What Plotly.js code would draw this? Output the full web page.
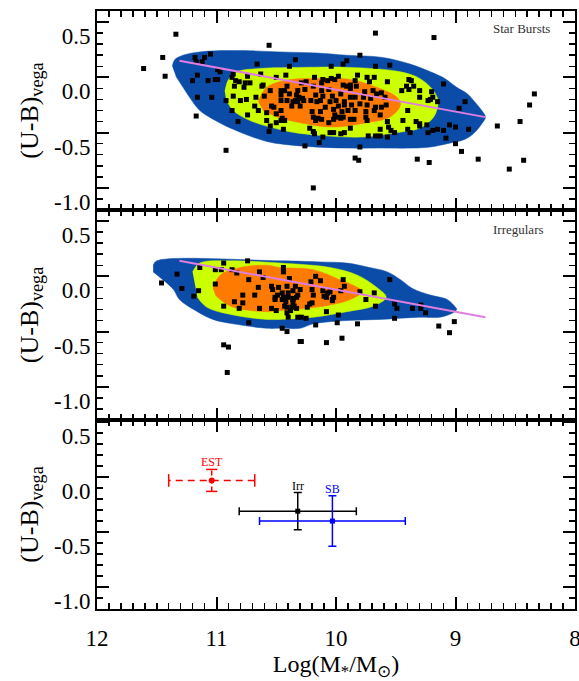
<!DOCTYPE html>
<html>
<head>
<meta charset="utf-8">
<script src="https://cdn.plot.ly/plotly-3.0.1.min.js"></script>
<style>html,body{margin:0;padding:0;background:#fff;}#chart{width:579px;height:681px;}</style>
</head>
<body>
<div id="chart"></div>
<script>
// ---------- Data ----------
// Top panel: Star Bursts
const sbX = [11.34,9.67,10.56,11.45,11.05,11.18,11.10,11.12,11.17,10.34,9.80,9.91,9.94,10.66,10.39,10.04,9.67,9.55,10.99,10.97,
11.43,11.16,10.86,10.63,10.42,10.74,10.50,10.18,10.11,10.04,9.98,9.82,9.74,9.68,9.39,11.20,11.07,11.01,10.99,10.87,
10.84,10.81,10.76,10.72,10.61,10.29,10.25,10.12,10.07,10.01,9.88,9.84,9.72,9.57,9.37,9.35,10.77,10.85,10.62,10.41,
10.46,10.43,10.32,10.26,10.19,10.12,10.06,9.94,9.91,9.88,9.83,9.76,9.69,9.66,9.62,9.45,9.41,9.39,9.30,10.60,
10.55,10.46,10.39,10.33,10.31,10.34,10.28,10.17,10.11,10.03,9.96,9.88,9.84,9.77,9.71,9.59,11.16,11.04,10.86,10.67,
9.30,10.92,10.80,10.75,10.46,10.41,10.36,10.37,10.32,10.27,10.21,10.16,10.13,10.05,10.00,9.93,9.93,9.87,9.80,9.74,
9.67,9.62,9.58,9.23,10.87,10.68,10.65,10.54,10.52,10.46,10.30,10.20,10.13,10.09,10.02,9.98,9.95,9.90,9.84,9.75,
9.68,9.63,9.40,10.74,10.58,10.50,10.45,10.19,10.15,10.12,10.01,9.98,9.94,9.88,9.85,9.75,9.74,9.57,11.17,10.82,
10.58,10.50,10.46,10.43,10.17,10.06,10.02,9.96,10.55,10.44,10.22,10.19,10.18,10.05,10.02,9.96,9.93,9.88,9.73,9.67,
9.63,9.63,9.57,9.56,9.54,9.51,9.44,9.40,9.38,9.33,9.30,9.30,9.24,9.23,10.56,10.11,10.14,10.26,9.80,10.92,
9.84,9.81,9.32,9.22,10.19,11.61,9.18,9.10,9.20,9.19,9.21,9.15,8.92,8.97,8.34,8.38,8.46,8.65,9.10,9.08,
9.05,9.00,8.89,9.00,8.95,8.81,8.55,8.43,9.19,9.15];
const sbY = [0.39,0.40,0.29,0.18,0.21,0.18,0.18,0.14,0.14,0.16,0.20,0.15,0.12,0.12,0.10,0.10,0.10,0.11,0.07,0.05,
0.01,0.02,0.03,0.03,0.02,0.01,0.00,0.00,-0.02,-0.01,0.01,0.02,0.00,0.00,-0.02,-0.03,-0.03,-0.02,-0.02,0.00,
-0.03,-0.04,-0.05,-0.05,-0.07,-0.05,-0.04,-0.05,-0.03,-0.02,-0.07,-0.03,-0.04,-0.04,-0.03,-0.08,-0.09,-0.08,-0.08,-0.08,
-0.12,-0.12,-0.12,-0.11,-0.08,-0.12,-0.11,-0.07,-0.08,-0.10,-0.08,-0.13,-0.12,-0.15,-0.14,-0.12,-0.08,-0.11,-0.12,-0.17,
-0.12,-0.16,-0.15,-0.16,-0.18,-0.21,-0.19,-0.16,-0.17,-0.17,-0.15,-0.18,-0.18,-0.18,-0.19,-0.18,-0.18,-0.18,-0.17,-0.18,
-0.18,-0.21,-0.21,-0.20,-0.21,-0.21,-0.22,-0.26,-0.22,-0.21,-0.21,-0.22,-0.21,-0.22,-0.21,-0.22,-0.25,-0.25,-0.24,-0.25,
-0.27,-0.27,-0.25,-0.21,-0.30,-0.26,-0.30,-0.26,-0.27,-0.30,-0.26,-0.31,-0.31,-0.27,-0.29,-0.26,-0.31,-0.30,-0.30,-0.31,
-0.30,-0.34,-0.30,-0.34,-0.32,-0.33,-0.37,-0.36,-0.37,-0.38,-0.34,-0.36,-0.36,-0.38,-0.38,-0.36,-0.39,-0.40,-0.35,-0.40,
-0.39,-0.41,-0.39,-0.39,-0.39,-0.41,-0.38,-0.37,-0.44,-0.47,-0.46,-0.49,-0.51,-0.50,-0.50,-0.51,-0.50,-0.46,-0.53,-0.53,
-0.53,-0.47,-0.54,-0.45,-0.48,-0.50,-0.39,-0.47,-0.50,-0.40,-0.42,-0.44,-0.43,-0.50,-0.49,-0.54,-0.59,-0.62,-0.63,-0.66,
-0.73,-0.75,-0.74,-0.77,-1.00,0.08,0.36,-0.06,-0.13,-0.18,-0.20,-0.22,-0.22,-0.28,-0.15,-0.25,-0.40,-0.44,-0.48,-0.55,
-0.43,-0.45,-0.47,-0.60,-0.67,-0.74,-0.83,-0.75,-0.48,-0.47];

// Density contour outlines, top panel (outer, middle, inner level)
const sbBlueX = [11.37,11.35,11.28,11.14,11.00,10.72,10.47,10.16,9.91,9.61,9.38,9.21,9.09,8.99,8.90,8.84,8.78,8.75,8.78,8.84,8.92,9.07,9.21,9.36,9.63,9.91,10.30,10.58,10.86,11.01,11.14,11.22,11.28,11.34];
const sbBlueY = [0.10,0.16,0.20,0.23,0.24,0.24,0.23,0.22,0.20,0.18,0.12,0.05,-0.01,-0.09,-0.15,-0.22,-0.30,-0.36,-0.42,-0.50,-0.56,-0.60,-0.63,-0.64,-0.64,-0.64,-0.62,-0.58,-0.47,-0.39,-0.30,-0.19,-0.09,0.01];
const sbYellowX = [10.93,10.90,10.83,10.64,10.30,9.88,9.46,9.30,9.20,9.15,9.15,9.19,9.30,9.49,9.77,10.19,10.44,10.72,10.86,10.92];
const sbYellowY = [-0.13,-0.02,0.05,0.08,0.09,0.09,0.05,-0.01,-0.10,-0.19,-0.27,-0.37,-0.46,-0.50,-0.54,-0.52,-0.48,-0.39,-0.30,-0.20];
const sbOrangeX = [10.65,10.58,10.38,10.16,9.88,9.66,9.49,9.46,9.55,9.74,10.03,10.30,10.49,10.61];
const sbOrangeY = [-0.22,-0.09,-0.02,-0.01,-0.02,-0.09,-0.18,-0.25,-0.36,-0.41,-0.45,-0.41,-0.36,-0.30];
const sbFitX = [11.31,8.75];
const sbFitY = [0.15,-0.36];

// Middle panel: Irregulars
const irrX = [11.46,11.33,11.29,11.19,11.15,11.14,11.01,10.96,10.94,10.74,10.87,10.83,10.64,10.61,10.44,10.44,10.73,11.01,10.54,10.48,
10.41,10.34,10.78,10.68,10.65,10.53,10.51,10.49,10.45,10.44,10.40,10.36,10.51,10.43,10.36,10.33,10.85,10.78,10.94,10.81,
10.64,10.54,10.50,10.41,10.41,10.40,10.73,10.94,10.90,10.91,10.45,10.41,10.30,10.32,10.17,10.13,10.21,10.39,10.30,10.36,
10.45,10.40,10.33,10.32,10.20,10.19,10.11,10.07,10.05,10.10,10.08,10.02,10.03,10.03,9.94,9.93,9.96,9.80,9.75,9.68,
10.36,10.35,10.42,10.37,10.38,10.20,10.22,10.24,10.08,10.29,10.25,9.67,10.17,9.98,9.99,9.82,10.29,10.08,9.95,9.55,
9.51,9.49,9.51,9.36,9.29,9.29,9.25,9.14,9.05,9.01];
const irrY = [-0.06,0.02,-0.11,-0.18,-0.13,0.08,0.06,0.06,0.12,0.14,0.06,0.03,0.04,-0.01,0.08,0.04,-0.03,-0.07,-0.09,-0.10,
-0.09,-0.09,-0.17,-0.17,-0.10,-0.12,-0.19,-0.17,-0.21,-0.19,-0.15,-0.20,-0.21,-0.27,-0.24,-0.29,-0.23,-0.24,-0.27,-0.29,
-0.29,-0.29,-0.31,-0.28,-0.33,-0.37,-0.42,-0.62,-0.64,-0.87,-0.47,-0.50,-0.59,-0.37,0.00,-0.04,-0.05,-0.02,-0.12,-0.13,
-0.15,-0.19,-0.19,-0.17,-0.12,-0.17,-0.13,-0.15,-0.14,-0.18,-0.19,-0.19,-0.21,-0.22,-0.03,-0.09,-0.13,-0.14,-0.21,-0.15,
-0.21,-0.27,-0.23,-0.28,-0.31,-0.24,-0.25,-0.28,-0.32,-0.37,-0.38,-0.27,-0.44,-0.35,-0.42,-0.43,-0.59,-0.60,-0.56,-0.03,
-0.25,-0.29,-0.38,-0.29,-0.29,-0.26,-0.33,-0.45,-0.51,-0.41];

const irrBlueX = [11.53,11.50,10.47,10.13,9.91,9.72,9.57,9.46,9.36,9.21,9.07,9.00,8.99,9.02,9.13,9.30,9.63,9.91,10.19,10.30,10.47,10.58,10.86,11.03,11.16,11.31,11.36,11.45,11.53];
const irrBlueY = [0.10,0.14,0.14,0.13,0.12,0.08,0.04,-0.03,-0.11,-0.17,-0.21,-0.28,-0.30,-0.33,-0.37,-0.37,-0.39,-0.40,-0.43,-0.47,-0.47,-0.47,-0.43,-0.39,-0.32,-0.21,-0.12,-0.03,0.04];
const irrYellowX = [11.20,11.14,10.86,10.47,10.05,9.82,9.66,9.58,9.69,9.91,10.19,10.47,10.58,10.86,11.08,11.16];
const irrYellowY = [0.04,0.12,0.14,0.12,0.08,0.01,-0.10,-0.19,-0.27,-0.32,-0.37,-0.39,-0.39,-0.35,-0.28,-0.19];
const irrOrangeX = [11.03,10.97,10.80,10.58,10.47,10.19,9.97,9.82,9.78,9.88,10.05,10.33,10.47,10.58,10.86,10.97,11.01];
const irrOrangeY = [-0.11,0.01,0.08,0.10,0.08,0.06,-0.03,-0.10,-0.14,-0.21,-0.26,-0.30,-0.31,-0.32,-0.28,-0.21,-0.17];
const irrFitX = [11.31,8.75];
const irrFitY = [0.14,-0.37];

// Bottom panel: mean values with dispersions
const groupNames = ['EST','Irr','SB'];
const groupX    = [11.04,10.32,10.03];
const groupY    = [-0.03,-0.31,-0.40];
const groupXErr = [0.36,0.49,0.61];
const groupYErr = [0.10,0.17,0.23];
const groupColors = ['#ff0000','#000000','#0000ff'];

// Tick labels
const xTickVals = [12,11,10,9,8];
const xTickText = ['12','11','10','9','8'];
const yTickVals = [-1,-0.5,0,0.5];
const yTickText = ['-1.0','-0.5','0.0','0.5'];

// ---------- Styling ----------
const FONT = 'Liberation Serif, Times New Roman, serif';
const cBlue = '#0a4ca8', cYellow = '#ccff00', cOrange = '#ff7a00', cFit = '#e07ee0';

function region(xs, ys, color, xa, ya){
  return {x: xs, y: ys, xaxis: xa, yaxis: ya, type:'scatter', mode:'lines', fill:'toself',
          fillcolor: color, line:{color: color, width:0.5, shape:'spline', smoothing:1}, hoverinfo:'skip', showlegend:false};
}
function pts(xs, ys, xa, ya){
  return {x: xs, y: ys, xaxis: xa, yaxis: ya, type:'scatter', mode:'markers',
          marker:{symbol:'square', size:5, color:'#000'}, showlegend:false};
}
function fit(xs, ys, xa, ya){
  return {x: xs, y: ys, xaxis: xa, yaxis: ya, type:'scatter', mode:'lines',
          line:{color:cFit, width:2}, showlegend:false};
}

const traces = [
  region(sbBlueX, sbBlueY, cBlue, 'x2', 'y'),
  region(sbYellowX, sbYellowY, cYellow, 'x2', 'y'),
  region(sbOrangeX, sbOrangeY, cOrange, 'x2', 'y'),
  pts(sbX, sbY, 'x2', 'y'),
  fit(sbFitX, sbFitY, 'x2', 'y'),
  region(irrBlueX, irrBlueY, cBlue, 'x3', 'y2'),
  region(irrYellowX, irrYellowY, cYellow, 'x3', 'y2'),
  region(irrOrangeX, irrOrangeY, cOrange, 'x3', 'y2'),
  pts(irrX, irrY, 'x3', 'y2'),
  fit(irrFitX, irrFitY, 'x3', 'y2')
];

// EST: dashed error bars built from its values
{
  const i = 0, c = groupColors[i];
  const cx = groupX[i], cy = groupY[i], ex = groupXErr[i], ey = groupYErr[i];
  traces.push({x:[cx-ex, cx+ex], y:[cy, cy], xaxis:'x', yaxis:'y3', type:'scatter', mode:'lines',
               line:{color:c, width:1.5, dash:'7px,5px'}, showlegend:false});
  traces.push({x:[cx, cx], y:[cy-ey, cy+ey], xaxis:'x', yaxis:'y3', type:'scatter', mode:'lines',
               line:{color:c, width:1.5, dash:'5px,3px'}, showlegend:false});
  traces.push({x:[cx-ex, cx+ex], y:[cy, cy], xaxis:'x', yaxis:'y3', type:'scatter', mode:'markers',
               marker:{symbol:'line-ns', size:9, line:{color:c, width:1.5}}, showlegend:false});
  traces.push({x:[cx, cx], y:[cy-ey, cy+ey], xaxis:'x', yaxis:'y3', type:'scatter', mode:'markers',
               marker:{symbol:'line-ew', size:8, line:{color:c, width:1.5}}, showlegend:false});
  traces.push({x:[cx], y:[cy], xaxis:'x', yaxis:'y3', type:'scatter', mode:'markers',
               marker:{symbol:'circle', size:6, color:c}, showlegend:false});
}
// Irr and SB: solid error bars
for (let i = 1; i < 3; i++){
  const c = groupColors[i];
  traces.push({x:[groupX[i]], y:[groupY[i]], xaxis:'x', yaxis:'y3', type:'scatter', mode:'markers',
    marker:{symbol:'square', size:5, color:c},
    error_x:{type:'data', array:[groupXErr[i]], color:c, thickness:1.5, width:4},
    error_y:{type:'data', array:[groupYErr[i]], color:c, thickness:1.5, width:4},
    showlegend:false});
}

const axisCommon = {
  showline:true, linecolor:'#000', linewidth:2, mirror:'allticks',
  ticks:'inside', ticklen:12, tickwidth:2, tickcolor:'#000',
  showgrid:false, zeroline:false,
  minor:{ticks:'inside', ticklen:6, tickwidth:1.5, tickcolor:'#000', dtick:0.1, tick0:0, showgrid:false},
  tickfont:{family:FONT, size:23, color:'#000'},
  ticklabeloverflow:'allow'
};
const yTitle = {text:'(U-B)<sub>vega</sub>', font:{family:FONT, size:26, color:'#000'}, standoff:8};

const layout = {
  width:579, height:681,
  margin:{l:97, r:4, t:11, b:72},
  paper_bgcolor:'#fff', plot_bgcolor:'#fff',
  showlegend:false,
  font:{family:FONT, color:'#000'},
  xaxis: Object.assign({}, axisCommon, {
    domain:[0,1], anchor:'y3', range:[12,8], tickmode:'array', tickvals:xTickVals, ticktext:xTickText,
    ticklabelstandoff:7,
    title:{text:'Log(M<sub>*</sub>/M<sub>⊙</sub>)', font:{family:FONT, size:24, color:'#000'}, standoff:6}
  }),
  xaxis2: Object.assign({}, axisCommon, {domain:[0,1], anchor:'y', range:[12,8], tickmode:'array', tickvals:xTickVals, showticklabels:false}),
  xaxis3: Object.assign({}, axisCommon, {domain:[0,1], anchor:'y2', range:[12,8], tickmode:'array', tickvals:xTickVals, showticklabels:false}),
  yaxis: Object.assign({}, axisCommon, {
    domain:[0.6672,1], anchor:'x2', range:[-1.2,0.6], tickmode:'array', tickvals:yTickVals, ticktext:yTickText,
    ticklabelshift:14, title:yTitle
  }),
  yaxis2: Object.assign({}, axisCommon, {
    domain:[0.3161,0.6672], anchor:'x3', range:[-1.3,0.6], tickmode:'array', tickvals:yTickVals, ticktext:yTickText,
    ticklabelshift:14, title:yTitle
  }),
  yaxis3: Object.assign({}, axisCommon, {
    domain:[0,0.3161], anchor:'x', range:[-1.2,0.52], tickmode:'array', tickvals:yTickVals, ticktext:yTickText,
    ticklabelshift:14, title:yTitle
  }),
  annotations: [
    {xref:'paper', yref:'paper', x:0.824, y:0.970, xanchor:'left', yanchor:'middle', showarrow:false,
     text:'Star Bursts', font:{family:FONT, size:13, color:'#333'}},
    {xref:'paper', yref:'paper', x:0.824, y:0.635, xanchor:'left', yanchor:'middle', showarrow:false,
     text:'Irregulars', font:{family:FONT, size:13, color:'#333'}}
  ].concat(groupNames.map((n, i) => ({
     xref:'x', yref:'y3', x:groupX[i], y:groupY[i] + groupYErr[i], xanchor:'center', yanchor:'bottom',
     yshift:-2, showarrow:false, text:n, font:{family:FONT, size:12, color:groupColors[i]}
  })))
};

Plotly.newPlot('chart', traces, layout, {staticPlot:true, displayModeBar:false});
</script>
</body>
</html>
